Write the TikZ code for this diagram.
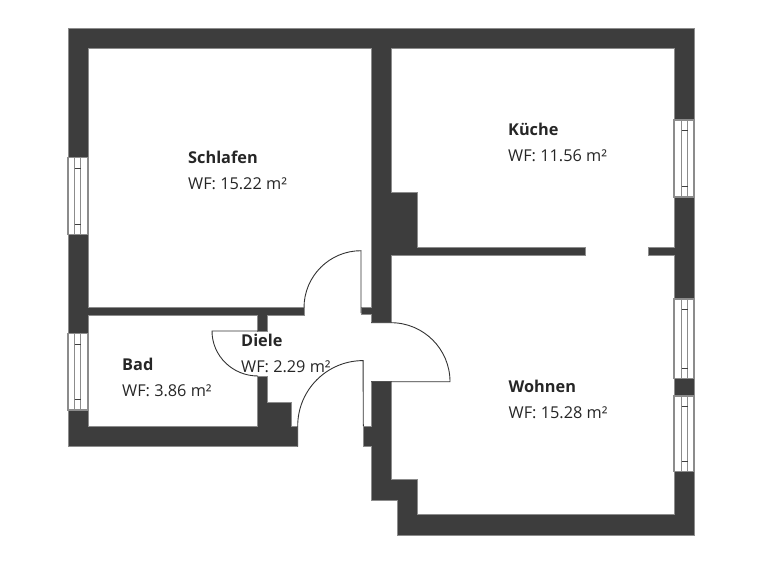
\documentclass[tikz,border=0pt]{standalone}
\usepackage{fontspec}
\setmainfont{Open Sans}
\definecolor{wallgray}{HTML}{3D3D3D}
\tikzset{
  wall/.style={fill=wallgray, draw=black!45, line width=0.5pt},
  glass/.style={draw=black!45, line width=1.2pt},
  leaf/.style={draw=black!80, line width=0.9pt},
  room/.style={anchor=base west, align=left, inner sep=0pt, font=\fontsize{16.3pt}{26pt}\selectfont, text=black!85}
}
\newcommand\WIN[4]{% x left, y top, y bottom, offset of the pane
  \draw[glass, fill=white] (#1, #2) rectangle (#1+20, #3);
  \draw[glass] (#1+#4, #2) -- (#1+#4, #3);
  \draw[glass] (#1+#4+6, #2) -- (#1+#4+6, #3);
  \draw[draw=black!75, line width=0.8pt] (#1+#4, #2+10.7) -- (#1+#4+6, #2+10.7);
  \draw[draw=black!75, line width=0.8pt] (#1+#4, #3-10.7) -- (#1+#4+6, #3-10.7);
}
\begin{document}
\begin{tikzpicture}[x=1pt, y=-1pt]

  \useasboundingbox (0, 0) rectangle (768, 560);

  % outer and middle walls
  \draw[wall] (68, 28) -- (694, 28) -- (694, 535) -- (397, 535) -- (397, 500) -- (371, 500) -- (371, 446.5) -- (363, 446.5) -- (363, 426) -- (371, 426) -- (371, 381.7) -- (391, 381.7) -- (391, 479.5) -- (417, 479.5) -- (417, 514.5) -- (674, 514.5) -- (674, 255.7) -- (648, 255.7) -- (648, 247.7) -- (674, 247.7) -- (674, 48) -- (391, 48) -- (391, 192.7) -- (417, 192.7) -- (417, 247.7) -- (585.7, 247.7) -- (585.7, 255.7) -- (391, 255.7) -- (391, 322.7) -- (371, 322.7) -- (371, 314) -- (361, 314) -- (361, 307.7) -- (371, 307.7) -- (371, 48) -- (88, 48) -- (88, 307.7) -- (304.3, 307.7) -- (304.3, 315.7) -- (267.3, 315.7) -- (267.3, 331) -- (257.7, 331) -- (257.7, 315.7) -- (88, 315.7) -- (88, 426) -- (257.7, 426) -- (257.7, 376) -- (267.3, 376) -- (267.3, 402.3) -- (291, 402.3) -- (291, 426) -- (297.7, 426) -- (297.7, 446.5) -- (68, 446.5) -- cycle;

  % windows
  \WIN{68}{157.7}{234.7}{6.7}
  \WIN{68}{333.3}{410}{6.7}
  \WIN{674}{120}{197}{7.7}
  \WIN{674}{299}{378.7}{7.7}
  \WIN{674}{396}{471.7}{7.7}

  % door leaves
  \draw[leaf] (361, 313) -- (361, 250.7) arc[start angle=-90, end angle=-180, radius=57];
  \draw[leaf] (371, 322.7) -- (391, 322.7) arc[start angle=-90, end angle=0, radius=59] -- (371, 381.7);
  \draw[leaf] (258, 331) -- (212, 331) arc[start angle=180, end angle=90, x radius=46, y radius=45];
  \draw[leaf] (297.7, 446.5) -- (297.7, 426) arc[start angle=180, end angle=270, radius=65.4] -- (363.3, 426);

  % rooms
  \node[room] (schlafen) at (188, 189) {\textbf{Schlafen}\\WF: 15.22 m²};
  \node[room] (kueche) at (508, 161) {\textbf{Küche}\\WF: 11.56 m²};
  \node[room] (wohnen) at (508.5, 418) {\textbf{Wohnen}\\WF: 15.28 m²};
  \node[room] (bad) at (122, 396) {\textbf{Bad}\\WF: 3.86 m²};
  \node[room] (diele) at (241, 372) {\textbf{Diele}\\WF: 2.29 m²};

\end{tikzpicture}
\end{document}
